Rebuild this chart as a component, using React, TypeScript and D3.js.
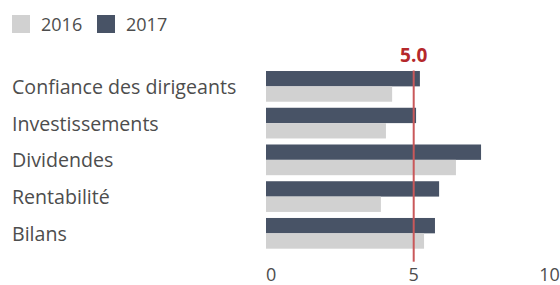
import React from "react";
import * as d3 from "d3";

const categories = ["Confiance des dirigeants", "Investissements", "Dividendes", "Rentabilité", "Bilans"];
const series = ["2017", "2016"];
const values2016 = [4.27, 4.06, 6.43, 3.89, 5.35];
const values2017 = [5.21, 5.08, 7.28, 5.86, 5.72];
const xTicks = [0, 5, 10];
const reference = 5.0;
const legendItems = ["2016", "2017"];

const W = 560;
const H = 285;
const colors: Record<string, string> = { "2016": "#d1d1d1", "2017": "#485366" };
const FONT = "'Open Sans', sans-serif";
const TEXT = "#4d4d4d";

export default function App() {
  const x = d3.scaleLinear().domain([0, 10]).range([266, 561.4]);
  const y = d3.scaleBand<string>().domain(categories).range([68, 251.7]).paddingInner(0.164).paddingOuter(0.082);
  const inner = d3.scaleBand<string>().domain(series).range([0, y.bandwidth()]);
  const vals: Record<string, number[]> = { "2016": values2016, "2017": values2017 };

  return (
    <svg width={W} height={H} style={{ position: "absolute", left: 0, top: 0 }} fontFamily={FONT}>
      {legendItems.map((s, i) => {
        const lx = i === 0 ? 12 : 97;
        return (
          <g key={s}>
            <rect x={lx} y={15} width={18} height={18} fill={colors[s]} />
            <text x={lx + 29} y={30.5} fontSize={18} fill={TEXT}>{s}</text>
          </g>
        );
      })}
      {categories.map((c, i) => (
        <g key={c}>
          <text x={12} y={(y(c) as number) + y.bandwidth() / 2 + 7.5} fontSize={19.6} fill={TEXT}>{c}</text>
          {series.map((s) => (
            <rect
              key={s}
              x={x(0)}
              y={(y(c) as number) + (inner(s) as number)}
              width={x(vals[s][i]) - x(0)}
              height={inner.bandwidth()}
              fill={colors[s]}
            />
          ))}
        </g>
      ))}
      <line x1={x(reference)} x2={x(reference)} y1={70.5} y2={261.7} stroke="#c9585a" strokeWidth={2} />
      <text x={x(reference)} y={61.5} textAnchor="middle" fontSize={19} fontWeight="bold" fill="#b5282b">{reference.toFixed(1)}</text>
      {xTicks.map((t, i) => (
        <text
          key={t}
          x={i === xTicks.length - 1 ? x(t) - 1.5 : x(t)}
          y={281}
          fontSize={18}
          fill={TEXT}
          textAnchor={i === 0 ? "start" : i === xTicks.length - 1 ? "end" : "middle"}
        >
          {t}
        </text>
      ))}
    </svg>
  );
}
